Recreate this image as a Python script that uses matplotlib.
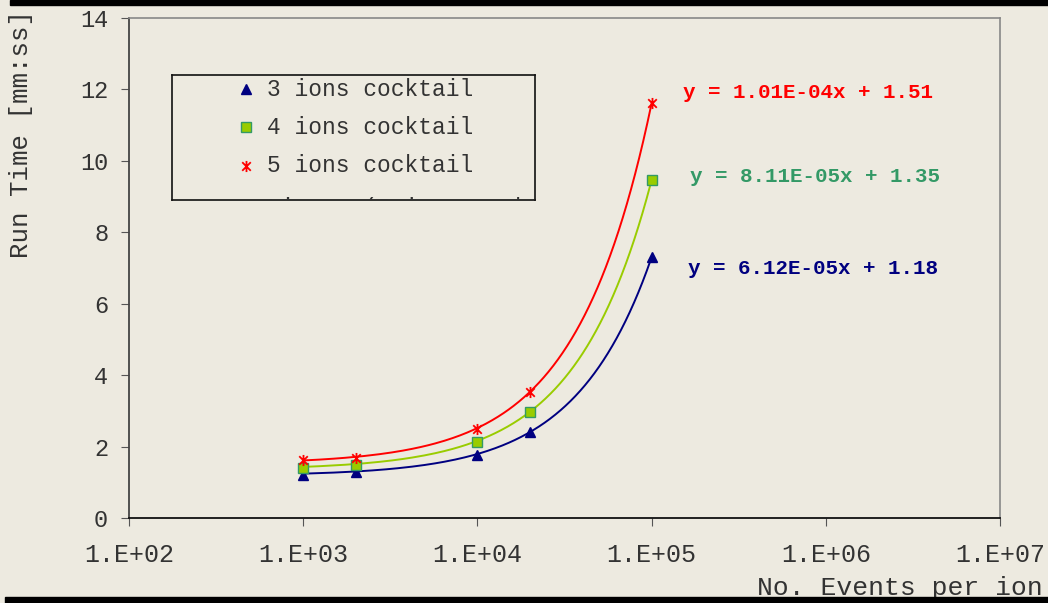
# Run time vs number of events, three ion cocktails with linear trend lines

import matplotlib.pyplot as plt
import numpy as np
from matplotlib.patches import Rectangle
from matplotlib.path import Path

plt.rcParams['font.family'] = ['Liberation Mono', 'DejaVu Sans Mono']

events = [1e3, 2e3, 1e4, 2e4, 1e5]
run_3ions = [1.21, 1.29, 1.77, 2.41, 7.30]
run_4ions = [1.40, 1.49, 2.13, 2.97, 9.46]
run_5ions = [1.62, 1.69, 2.49, 3.53, 11.62]

# trend line coefficients (slope, intercept)
fit_3ions = (6.12e-05, 1.18)
fit_4ions = (8.11e-05, 1.35)
fit_5ions = (1.01e-04, 1.51)

series_names = ['3 ions cocktail', '4 ions cocktail', '5 ions cocktail', 'Linear (3 ions cocktail)']
xtick_labels = ['1.E+02', '1.E+03', '1.E+04', '1.E+05', '1.E+06', '1.E+07']

bg = '#EDEAE0'
navy = '#000080'
lime = '#99CC00'
teal = '#339966'
red = '#FF0000'

# asterisk marker like the spreadsheet one: x plus a vertical bar
star = Path([(-1, -1), (1, 1), (-1, 1), (1, -1), (0, -1.3), (0, 1.3)],
            [Path.MOVETO, Path.LINETO, Path.MOVETO, Path.LINETO, Path.MOVETO, Path.LINETO])

fig = plt.figure(figsize=(10.48, 6.03), dpi=100, facecolor=bg)
ax = fig.add_axes([129/1048, 1-518/603, 871/1048, 500/603], facecolor=bg)

xs = np.linspace(1e3, 1e5, 400)
ax.plot(xs, fit_5ions[0]*xs + fit_5ions[1], color=red, lw=1.4)
ax.plot(xs, fit_4ions[0]*xs + fit_4ions[1], color=lime, lw=1.4)
ax.plot(xs, fit_3ions[0]*xs + fit_3ions[1], color=navy, lw=1.4)

ax.plot(events, run_3ions, ls='none', marker='^', ms=7.5, color=navy, mec=navy)
ax.plot(events, run_4ions, ls='none', marker='s', ms=6.5, mfc=lime, mec=teal, mew=1)
ax.plot(events, run_5ions, ls='none', marker=star, ms=8, mec=red, mew=1.3, mfc='none')

ax.set_xscale('log')
ax.set_xlim(1e2, 1e7)
ax.set_ylim(0, 14)
ax.set_xticks([1e2, 1e3, 1e4, 1e5, 1e6, 1e7])
ax.set_xticklabels(xtick_labels)
ax.xaxis.set_minor_locator(plt.NullLocator())
ax.set_yticks(range(0, 15, 2))
ax.tick_params(axis='y', direction='out', length=6, color='#555555', labelsize=17, labelcolor='#333333', pad=9)
ax.tick_params(axis='x', direction='out', length=6, color='#555555', labelsize=18, labelcolor='#333333', pad=12)

for side in ['top', 'right']:
    ax.spines[side].set_color('#888888')
    ax.spines[side].set_linewidth(1.2)
ax.spines['left'].set_color('#444444')
ax.spines['bottom'].set_color('#111111')
ax.spines['left'].set_linewidth(1.3)
ax.spines['bottom'].set_linewidth(1.3)

# equations of the trend lines
fig.text(683/1048, 1-92/603, 'y = 1.01E-04x + 1.51', color=red, fontsize=15, fontweight='bold', va='center')
fig.text(690/1048, 1-177/603, 'y = 8.11E-05x + 1.35', color=teal, fontsize=15, fontweight='bold', va='center')
fig.text(688/1048, 1-268/603, 'y = 6.12E-05x + 1.18', color=navy, fontsize=15, fontweight='bold', va='center')

fig.text(21/1048, 1-134/603, 'Run Time [mm:ss]', rotation=90, ha='center', va='center',
         fontsize=18.5, color='#333333')
fig.text(1043/1048, 1-588/603, 'No. Events per ion', ha='right', va='center',
         fontsize=19, color='#333333')

# legend box, last entry cut off by the frame
lg = fig.add_axes([172/1048, 1-200/603, 363/1048, 125/603], facecolor=bg)
lg.set_xlim(0, 363)
lg.set_ylim(125, 0)
lg.set_xticks([])
lg.set_yticks([])
for s in lg.spines.values():
    s.set_color('#111111')
    s.set_linewidth(1.2)
rows = [14, 52, 91, 133]
lg.plot([74], [rows[0]], marker='^', ms=7.5, color=navy, ls='none')
lg.plot([74], [rows[1]], marker='s', ms=6.5, mfc=lime, mec=teal, ls='none')
lg.plot([74], [rows[2]], marker=star, ms=8, mec=red, mew=1.3, mfc='none', ls='none')
lg.plot([55, 85], [rows[3], rows[3]], color=navy, lw=1.4, clip_on=True)
for name, y in zip(series_names, rows):
    lg.text(95, y, name, fontsize=16.5, color='#333333', va='center', clip_on=True)

# dark bars along top and bottom edges
fig.patches.append(Rectangle((10/1048, 1-5/603), 1, 5/603, transform=fig.transFigure,
                             color='black', zorder=10))
fig.patches.append(Rectangle((5/1048, 0), 1, 6/603, transform=fig.transFigure,
                             color='black', zorder=10))

fig.savefig('out.png', dpi=100, facecolor=bg)
